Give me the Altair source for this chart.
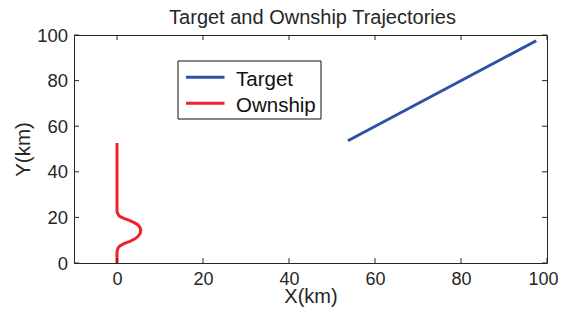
import altair as alt
import pandas as pd

series_names = ["Target", "Ownship"]
series_colors = ["#2E50A8", "#EE2229"]

target_x = [53.7, 97.5]
target_y = [53.6, 97.5]

ownship_x = [0, 0, 0.2, 0.6, 1.6, 3.0, 4.2, 4.9, 5.4, 5.5, 5.4, 4.9, 4.0, 3.0, 1.6, 0.6, 0.2, 0, 0]
ownship_y = [0, 5.0, 6.4, 7.4, 8.5, 9.5, 10.6, 11.7, 13.0, 14.2, 15.4, 16.7, 17.7, 18.6, 19.6, 20.5, 21.6, 22.7, 52.6]

x_ticks = [0, 20, 40, 60, 80, 100]
y_ticks = [0, 20, 40, 60, 80, 100]

chart_title = "Target and Ownship Trajectories"

W, H = 473, 228
FONT = "Liberation Sans"
TXT = "#262626"

rows = []
for i, (x, y) in enumerate(zip(target_x, target_y)):
    rows.append({"series": "Target", "x": x, "y": y, "o": i})
for i, (x, y) in enumerate(zip(ownship_x, ownship_y)):
    rows.append({"series": "Ownship", "x": x, "y": y, "o": i})
df = pd.DataFrame(rows)

xscale = alt.Scale(domain=[-10, 100], nice=False, zero=False)
yscale = alt.Scale(domain=[0, 100], nice=False, zero=False)

x_axis = alt.Axis(values=x_ticks, title="X(km)", ticks=False, tickSize=0, domain=False, grid=False,
                  labelFontSize=18, labelFont=FONT, labelColor=TXT, labelPadding=21,
                  labelBaseline="alphabetic", labelFlush=False,
                  labelOffset=alt.ExprRef("datum.value == 100 ? -4 : 0"),
                  titleFontSize=20, titleFont=FONT, titleColor=TXT, titleFontWeight="normal",
                  titleBaseline="alphabetic", titleX=W / 2, titleY=39, titleAnchor="middle")
y_axis = alt.Axis(values=y_ticks, title="Y(km)", ticks=False, tickSize=0, domain=False, grid=False,
                  labelFontSize=18.5, labelFont=FONT, labelColor=TXT, labelPadding=6.5,
                  labelBaseline="middle", labelFlush=False,
                  titleFontSize=20.5, titleFont=FONT, titleColor=TXT, titleFontWeight="normal",
                  titleBaseline="alphabetic", titleX=-45, titleY=H / 2, titleAngle=270,
                  titleAnchor="middle")

color = alt.Color("series:N", scale=alt.Scale(domain=series_names, range=series_colors), legend=None)

lines = alt.Chart(df).mark_line(strokeWidth=3, clip=True).encode(
    x=alt.X("x:Q", scale=xscale, axis=x_axis),
    y=alt.Y("y:Q", scale=yscale, axis=y_axis),
    color=color,
    order="o:Q",
    detail="series:N",
)

xt = pd.DataFrame({"x": x_ticks})
yt = pd.DataFrame({"y": y_ticks})
tick_style = dict(color=TXT, strokeWidth=1)

bottom_ticks = alt.Chart(xt).mark_rule(**tick_style).encode(
    x=alt.X("x:Q", scale=xscale, axis=x_axis), y=alt.value(H), y2=alt.value(H - 5))
top_ticks = alt.Chart(xt).mark_rule(**tick_style).encode(
    x=alt.X("x:Q", scale=xscale, axis=x_axis), y=alt.value(0), y2=alt.value(5))
left_ticks = alt.Chart(yt).mark_rule(**tick_style).encode(
    y=alt.Y("y:Q", scale=yscale, axis=y_axis), x=alt.value(0), x2=alt.value(5))
right_ticks = alt.Chart(yt).mark_rule(**tick_style).encode(
    y=alt.Y("y:Q", scale=yscale, axis=y_axis), x=alt.value(W), x2=alt.value(W - 5))

one = pd.DataFrame({"a": [0]})

title_mark = alt.Chart(one).mark_text(
    text=chart_title, align="center", baseline="alphabetic", fontSize=20, font=FONT, color=TXT).encode(
    x=alt.value(238.5), y=alt.value(-11))

# legend box
lx0, lx1, ly0, ly1 = 104, 247, 26, 84
leg_box = alt.Chart(one).mark_rect(
    fill="white", stroke="#111111", strokeWidth=1).encode(
    x=alt.value(lx0), x2=alt.value(lx1), y=alt.value(ly0), y2=alt.value(ly1))

leg_layers = [leg_box]
for i, (name, col) in enumerate(zip(series_names, series_colors)):
    yy = 42.3 + 26 * i
    leg_layers.append(alt.Chart(one).mark_rule(color=col, strokeWidth=3).encode(
        x=alt.value(112), x2=alt.value(150.5), y=alt.value(yy)))
    leg_layers.append(alt.Chart(one).mark_text(
        text=name, align="left", baseline="alphabetic", fontSize=20.5, font=FONT, color="#111111").encode(
        x=alt.value(162), y=alt.value(yy + 8.2)))

chart = alt.layer(lines, bottom_ticks, top_ticks, left_ticks, right_ticks, title_mark, *leg_layers).properties(
    width=W, height=H,
    background="white",
    autosize=alt.AutoSizeParams(type="none"),
    padding={"left": 66, "top": 27, "right": 11, "bottom": 45},
).configure_view(stroke=TXT, strokeWidth=1)

chart.save("out.html", embed_options={"renderer": "svg", "actions": False})
